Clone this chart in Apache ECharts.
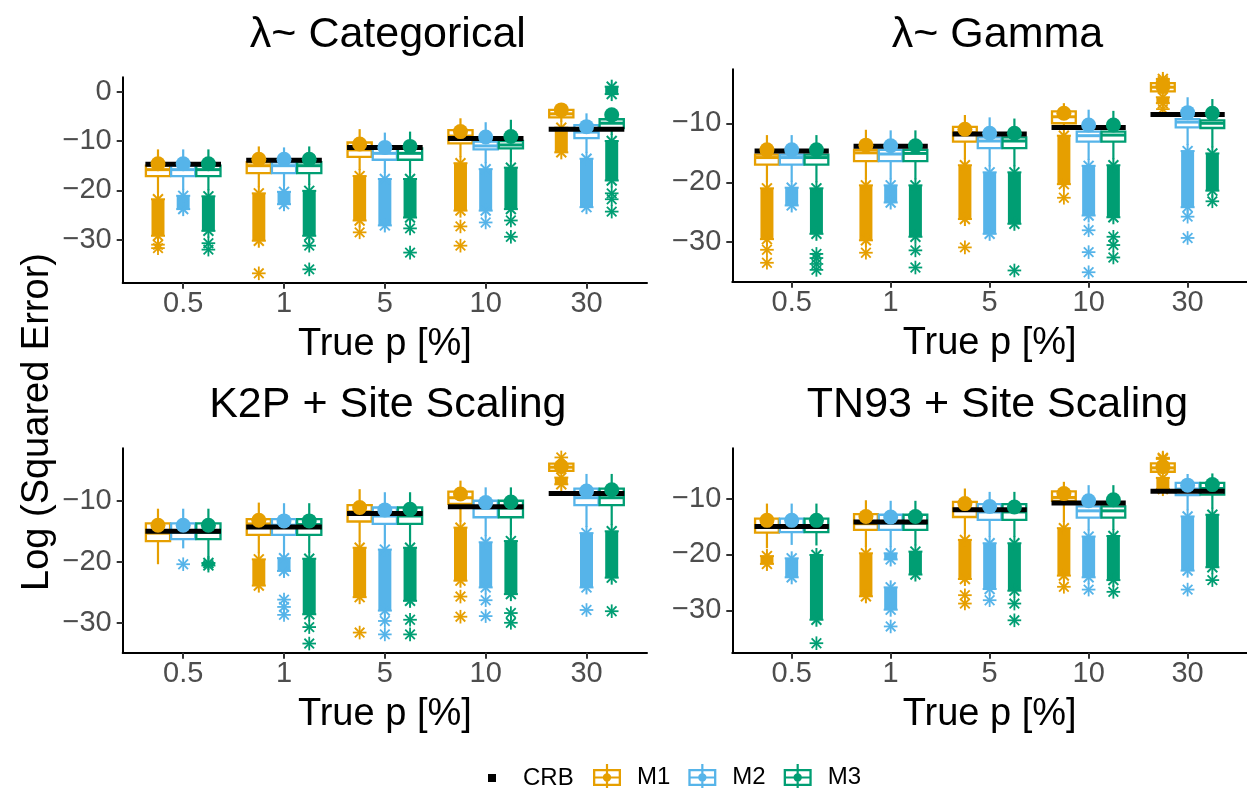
<!DOCTYPE html>
<html><head><meta charset="utf-8">
<script src="https://cdn.jsdelivr.net/npm/echarts@6/dist/echarts.min.js"></script>
<style>html,body{margin:0;padding:0;background:#fff}#chart{width:1247px;height:788px}</style>
</head><body><div id="chart"></div>
<script>
// ---------- data ----------
const categories = ['0.5', '1', '5', '10', '30'];
const panelTitles = ['λ~ Categorical', 'λ~ Gamma', 'K2P + Site Scaling', 'TN93 + Site Scaling'];
const modelNames = ['M1', 'M2', 'M3'];
const xAxisTitle = 'True p [%]';
const yAxisTitle = 'Log (Squared Error)';
const yTicksP1 = [0, -10, -20, -30];
const yTicksP2 = [-10, -20, -30];
const yTicksP3 = [-10, -20, -30];
const yTicksP4 = [-10, -20, -30];

// box stats per category: [lowerWhisker, Q1, median, Q3, upperWhisker]
// Panel 1: lambda ~ Categorical
const p1Crb = [-14.7, -13.9, -11.3, -9.5, -7.6];
const p1M1Box = [[-20.6,-17.1,-15.8,-15.0,-11.7],[-19.4,-16.5,-15.0,-14.3,-11.1],[-15.9,-13.2,-11.8,-10.3,-7.6],[-13.3,-10.5,-9.0,-7.8,-5.4],[-6.1,-5.2,-4.5,-3.7,-2.6]];
const p1M1Mean = [-14.6, -13.7, -10.6, -8.1, -3.7];
const p1M1Bands = [[0,-21.8,-29.2],[1,-20.6,-30.2],[2,-17.1,-26.1],[3,-14.5,-24.1],[4,-7.3,-12.3]];
const p1M1Out = [[0,-31.0],[0,-31.7],[1,-36.8],[2,-28.5],[3,-27.3],[3,-31.2]];
const p1M2Box = [[-19.9,-17.1,-15.8,-15.0,-11.7],[-19.1,-16.5,-15.0,-14.3,-11.3],[-16.5,-13.8,-12.5,-11.5,-8.3],[-14.5,-11.7,-11.0,-10.1,-6.2],[-12.4,-9.4,-8.2,-6.8,-4.4]];
const p1M2Mean = [-14.6, -13.7, -11.3, -9.2, -7.1];
const p1M2Bands = [[0,-21.1,-23.8],[1,-20.3,-22.8],[2,-17.7,-27.1],[3,-15.7,-24.1],[4,-13.6,-23.4]];
const p1M2Out = [[3,-26.5]];
const p1M3Box = [[-20.0,-17.1,-15.8,-15.0,-11.7],[-18.9,-16.5,-15.0,-14.3,-11.1],[-16.5,-13.8,-12.5,-11.5,-8.1],[-14.2,-11.5,-10.8,-10.0,-5.7],[-8.8,-7.4,-6.4,-5.6,-3.6]];
const p1M3Mean = [-14.6, -13.7, -11.1, -9.1, -4.7];
const p1M3Bands = [[0,-21.2,-28.2],[1,-20.1,-29.2],[2,-17.7,-25.5],[3,-15.4,-23.8],[4,-10.0,-18.0],[4,1.0,-0.5]];
const p1M3Out = [[0,-30.7],[0,-32.0],[1,-31.2],[1,-36.0],[2,-27.7],[2,-32.6],[3,-26.1],[3,-29.4],[4,-20.6],[4,-21.8],[4,-24.3]];

// Panel 2: lambda ~ Gamma
const p2Crb = [-14.7, -13.9, -11.8, -10.7, -8.5];
const p2M1Box = [[-20.0,-17.0,-15.8,-15.3,-12.0],[-19.5,-16.4,-15.0,-14.5,-11.1],[-16.1,-13.1,-11.6,-10.6,-8.6],[-11.1,-10.0,-8.9,-8.0,-6.6],[-5.0,-4.6,-3.9,-3.2,-3.0]];
const p2M1Mean = [-14.5, -13.7, -11.0, -8.3, -3.8];
const p2M1Bands = [[0,-21.0,-29.6],[1,-20.5,-29.8],[2,-17.1,-26.2],[3,-12.1,-20.3],[4,-5.6,-6.6],[4,-2.5,-2.9]];
const p2M1Out = [[0,-31.4],[0,-33.6],[1,-31.9],[2,-31.0],[3,-22.6],[4,-7.6]];
const p2M2Box = [[-19.9,-17.0,-15.8,-15.3,-12.0],[-19.5,-16.4,-15.2,-14.5,-11.2],[-17.3,-14.2,-13.0,-12.4,-9.0],[-16.2,-13.1,-12.1,-11.4,-7.7],[-13.7,-10.7,-9.8,-9.3,-5.6]];
const p2M2Mean = [-14.5, -13.8, -11.7, -10.3, -8.2];
const p2M2Bands = [[0,-20.9,-23.9],[1,-20.5,-23.4],[2,-18.3,-28.7],[3,-17.2,-25.6],[4,-14.7,-24.2]];
const p2M2Out = [[3,-28.1],[3,-31.8],[3,-35.2],[4,-25.8],[4,-29.4]];
const p2M3Box = [[-20.0,-17.0,-15.8,-15.3,-12.0],[-19.5,-16.4,-15.1,-14.5,-11.2],[-17.3,-14.2,-13.0,-12.4,-9.2],[-16.1,-13.1,-12.0,-11.4,-7.9],[-14.1,-10.8,-10.0,-9.5,-5.9]];
const p2M3Mean = [-14.5, -13.8, -11.7, -10.3, -8.3];
const p2M3Bands = [[0,-21.0,-28.7],[1,-20.5,-29.2],[2,-18.3,-27.0],[3,-17.1,-25.9],[4,-15.1,-21.4]];
const p2M3Out = [[0,-32.1],[0,-32.8],[0,-33.8],[0,-34.8],[1,-31.5],[1,-34.4],[2,-34.9],[3,-29.2],[3,-30.6],[3,-32.7],[4,-23.2]];

// Panel 3: K2P + Site Scaling
const p3Crb = [-15.0, -14.3, -12.1, -11.0, -8.8];
const p3M1Box = [[-20.4,-16.6,-15.3,-13.7,-11.3],[-18.6,-15.6,-13.8,-13.0,-10.3],[-16.7,-13.4,-11.8,-10.7,-8.1],[-13.4,-10.5,-9.5,-8.5,-6.7],[-5.6,-5.1,-4.5,-3.9,-3.3]];
const p3M1Mean = [-14.0, -13.2, -11.1, -8.9, -4.4];
const p3M1Bands = [[1,-19.6,-23.9],[2,-17.7,-25.8],[3,-14.4,-23.1],[4,-6.2,-7.3]];
const p3M1Out = [[2,-31.6],[3,-25.7],[3,-29.0],[4,-2.9]];
const p3M2Box = [[-17.8,-16.3,-15.2,-13.7,-11.3],[-18.4,-15.6,-14.0,-13.0,-10.4],[-17.0,-13.8,-12.5,-11.1,-8.6],[-15.8,-12.7,-11.2,-10.0,-7.8],[-14.3,-10.7,-9.5,-8.0,-5.6]];
const p3M2Mean = [-14.0, -13.3, -11.5, -10.3, -8.4];
const p3M2Bands = [[1,-19.4,-21.5],[2,-18.0,-28.0],[3,-16.8,-24.2],[4,-15.3,-24.2]];
const p3M2Out = [[0,-20.4],[1,-26.2],[1,-27.4],[1,-28.7],[2,-29.7],[2,-31.9],[3,-26.3],[3,-28.9],[4,-27.9]];
const p3M3Box = [[-19.5,-16.3,-15.2,-13.7,-11.3],[-18.5,-15.6,-13.9,-13.0,-10.4],[-16.7,-13.8,-12.5,-11.1,-8.6],[-15.6,-12.7,-11.2,-10.0,-7.8],[-14.0,-10.7,-9.5,-8.0,-5.6]];
const p3M3Mean = [-14.0, -13.3, -11.4, -10.2, -8.2];
const p3M3Bands = [[0,-20.2,-20.6],[1,-19.5,-28.6],[2,-17.7,-26.4],[3,-16.6,-25.3],[4,-15.0,-22.6]];
const p3M3Out = [[1,-30.7],[1,-33.4],[2,-29.5],[2,-31.9],[3,-28.4],[3,-30.0],[4,-28.1]];

// Panel 4: TN93 + Site Scaling
const p4Crb = [-15.0, -14.2, -12.0, -10.8, -8.7];
const p4M1Box = [[-18.9,-16.1,-14.9,-13.6,-10.9],[-18.7,-15.6,-14.5,-12.8,-10.3],[-16.3,-13.3,-11.9,-10.6,-8.2],[-14.2,-10.4,-9.8,-8.7,-7.0],[-5.6,-5.2,-4.5,-3.7,-3.2]];
const p4M1Mean = [-13.9, -13.2, -10.9, -9.1, -4.3];
const p4M1Bands = [[0,-20.3,-21.7],[1,-19.8,-27.5],[2,-17.4,-24.4],[3,-15.3,-23.8],[4,-6.3,-8.3],[4,-2.7,-2.9]];
const p4M1Out = [[2,-27.3],[2,-28.8],[3,-25.8]];
const p4M2Box = [[-18.3,-16.0,-15.0,-13.6,-10.9],[-18.7,-15.6,-14.4,-12.9,-10.4],[-16.9,-13.8,-12.4,-11.0,-8.8],[-15.7,-13.4,-12.2,-11.4,-7.6],[-12.1,-9.4,-8.3,-7.2,-5.6]];
const p4M2Mean = [-13.9, -13.3, -11.4, -10.4, -7.6];
const p4M2Bands = [[0,-20.7,-24.1],[1,-19.8,-20.9],[1,-25.9,-29.9],[2,-18.0,-26.2],[3,-16.8,-24.1],[4,-13.2,-22.9]];
const p4M2Out = [[1,-32.9],[2,-28.2],[3,-26.3],[4,-26.3]];
const p4M3Box = [[-18.4,-16.0,-15.0,-13.6,-10.9],[-18.4,-15.6,-14.4,-12.9,-10.4],[-16.9,-13.8,-12.4,-11.0,-8.8],[-15.6,-13.4,-12.2,-11.4,-7.6],[-11.8,-9.3,-8.2,-7.2,-5.5]];
const p4M3Mean = [-13.9, -13.2, -11.5, -10.2, -7.5];
const p4M3Bands = [[0,-20.1,-31.7],[1,-19.5,-23.6],[2,-18.0,-26.5],[3,-16.7,-24.6],[4,-12.9,-22.3]];
const p4M3Out = [[0,-35.9],[2,-28.8],[2,-31.8],[3,-26.7],[4,-24.6]];

// ---------- layout / style ----------
const FONT = '"Liberation Sans", Arial, Helvetica, sans-serif';
const COLORS = ['#E69F00', '#56B4E9', '#009E73'];
const OFFSETS = [-0.25, 0, 0.25];
const layout = [
  {left: 122.7, top: 77.3, width: 524.3, height: 205.4, ymin: -38.7, ymax: 2.9},
  {left: 732.3, top: 69.3, width: 524.3, height: 212.4, ymin: -36.8, ymax: -0.87},
  {left: 122.7, top: 448.3, width: 524.3, height: 204.4, ymin: -34.9, ymax: -1.4},
  {left: 732.3, top: 448.3, width: 524.3, height: 204.4, ymin: -37.6, ymax: -1.0}
];
const panels = [
  {crb: p1Crb, box: [p1M1Box, p1M2Box, p1M3Box], mean: [p1M1Mean, p1M2Mean, p1M3Mean], bands: [p1M1Bands, p1M2Bands, p1M3Bands], out: [p1M1Out, p1M2Out, p1M3Out], yTicks: yTicksP1},
  {crb: p2Crb, box: [p2M1Box, p2M2Box, p2M3Box], mean: [p2M1Mean, p2M2Mean, p2M3Mean], bands: [p2M1Bands, p2M2Bands, p2M3Bands], out: [p2M1Out, p2M2Out, p2M3Out], yTicks: yTicksP2},
  {crb: p3Crb, box: [p3M1Box, p3M2Box, p3M3Box], mean: [p3M1Mean, p3M2Mean, p3M3Mean], bands: [p3M1Bands, p3M2Bands, p3M3Bands], out: [p3M1Out, p3M2Out, p3M3Out], yTicks: yTicksP3},
  {crb: p4Crb, box: [p4M1Box, p4M2Box, p4M3Box], mean: [p4M1Mean, p4M2Mean, p4M3Mean], bands: [p4M1Bands, p4M2Bands, p4M3Bands], out: [p4M1Out, p4M2Out, p4M3Out], yTicks: yTicksP4}
];

function fmtY(v) { return v < 0 ? '\u2212' + Math.abs(v) : String(v); }
function astLines(cx, cy, r, color, lw) {
  const d = r * 0.7071;
  return [[0,-r,0,r],[-r,0,r,0],[-d,-d,d,d],[-d,d,d,-d]].map(s => ({
    type: 'line', shape: {x1: cx + s[0], y1: cy + s[1], x2: cx + s[2], y2: cy + s[3]},
    style: {stroke: color, lineWidth: lw}
  }));
}

const grids = [], xAxes = [], yAxes = [], series = [];
layout.forEach((L, pi) => {
  grids.push({left: L.left, top: L.top, width: L.width, height: L.height, containLabel: false});
  xAxes.push({
    type: 'value', gridIndex: pi, min: -0.6, max: 4.6,
    axisLine: {show: true, onZero: false, lineStyle: {color: '#000', width: 2}},
    axisTick: {show: true, customValues: [0, 1, 2, 3, 4], length: 6, lineStyle: {color: '#333', width: 2}},
    axisLabel: {customValues: [0, 1, 2, 3, 4], formatter: v => categories[Math.round(v)], fontSize: 29, color: '#4D4D4D', margin: 7, fontFamily: FONT},
    splitLine: {show: false},
    name: xAxisTitle, nameLocation: 'middle', nameGap: 43,
    nameTextStyle: {fontSize: 38, color: '#000', fontFamily: FONT}
  });
  yAxes.push({
    type: 'value', gridIndex: pi, min: L.ymin, max: L.ymax,
    axisLine: {show: true, onZero: false, lineStyle: {color: '#000', width: 2}},
    axisTick: {show: true, customValues: panels[pi].yTicks, length: 6, lineStyle: {color: '#333', width: 2}},
    axisLabel: {customValues: panels[pi].yTicks, formatter: fmtY, fontSize: 29, color: '#4D4D4D', margin: 11, fontFamily: FONT},
    splitLine: {show: false}
  });
});

panels.forEach((P, pi) => {
  modelNames.forEach((m, mi) => {
    const color = COLORS[mi], off = OFFSETS[mi];
    // dense outlier columns
    series.push({
      type: 'custom', name: m, coordinateSystem: 'cartesian2d', xAxisIndex: pi, yAxisIndex: pi,
      z: 2, silent: true, itemStyle: {color: color}, encode: {x: 0, y: [1, 2]},
      data: P.bands[mi],
      renderItem: (params, api) => {
        const x = api.value(0) + off;
        const t = api.coord([x, api.value(1)]), b = api.coord([x, api.value(2)]);
        return {type: 'group', children: [
          {type: 'rect', shape: {x: t[0] - 6.5, y: t[1], width: 13, height: Math.max(0, b[1] - t[1])}, style: {fill: color}}
        ].concat(astLines(t[0], t[1], 7, color, 2), astLines(b[0], b[1], 7, color, 2))};
      }
    });
    // single outliers
    series.push({
      type: 'custom', name: m, coordinateSystem: 'cartesian2d', xAxisIndex: pi, yAxisIndex: pi,
      z: 2, silent: true, itemStyle: {color: color}, encode: {x: 0, y: 1},
      data: P.out[mi],
      renderItem: (params, api) => {
        const p = api.coord([api.value(0) + off, api.value(1)]);
        return {type: 'group', children: astLines(p[0], p[1], 6.8, color, 1.8)};
      }
    });
    // boxes + whiskers
    series.push({
      type: 'custom', name: m, coordinateSystem: 'cartesian2d', xAxisIndex: pi, yAxisIndex: pi,
      z: 3, silent: true, itemStyle: {color: color}, encode: {x: 0, y: [1, 5]},
      data: P.box[mi].map((b, i) => [i].concat(b)),
      renderItem: (params, api) => {
        const x = api.value(0) + off;
        const lo = api.coord([x, api.value(1)]), q1 = api.coord([x, api.value(2)]);
        const med = api.coord([x, api.value(3)]), q3 = api.coord([x, api.value(4)]);
        const hi = api.coord([x, api.value(5)]);
        const hw = api.size([0.12, 0])[0];
        return {type: 'group', children: [
          {type: 'line', shape: {x1: hi[0], y1: hi[1], x2: lo[0], y2: lo[1]}, style: {stroke: color, lineWidth: 2.2}},
          {type: 'rect', shape: {x: q3[0] - hw, y: q3[1], width: 2 * hw, height: q1[1] - q3[1]}, style: {fill: '#fff', stroke: color, lineWidth: 2.3}},
          {type: 'line', shape: {x1: med[0] - hw, y1: med[1], x2: med[0] + hw, y2: med[1]}, style: {stroke: color, lineWidth: 3}}
        ]};
      }
    });
  });
  // CRB lines
  series.push({
    type: 'custom', name: 'CRB', coordinateSystem: 'cartesian2d', xAxisIndex: pi, yAxisIndex: pi,
    z: 4, silent: true, itemStyle: {color: '#000'}, encode: {x: 0, y: 1},
    data: P.crb.map((v, i) => [i, v]),
    renderItem: (params, api) => {
      const a = api.coord([api.value(0) - 0.375, api.value(1)]);
      const b = api.coord([api.value(0) + 0.375, api.value(1)]);
      return {type: 'rect', shape: {x: a[0], y: a[1] - 2.5, width: b[0] - a[0], height: 5}, style: {fill: '#000'}};
    }
  });
  // means
  modelNames.forEach((m, mi) => {
    const color = COLORS[mi], off = OFFSETS[mi];
    series.push({
      type: 'custom', name: m, coordinateSystem: 'cartesian2d', xAxisIndex: pi, yAxisIndex: pi,
      z: 5, silent: true, itemStyle: {color: color}, encode: {x: 0, y: 1},
      data: P.mean[mi].map((v, i) => [i, v]),
      renderItem: (params, api) => {
        const p = api.coord([api.value(0) + off, api.value(1)]);
        return {type: 'circle', shape: {cx: p[0], cy: p[1], r: 7.5}, style: {fill: color}};
      }
    });
  });
});

const KEY_ICON = 'path://M0,5H28V22H0Z M2.3,7.3V19.7H25.7V7.3Z M2,12.4H26V14.6H2Z M12.9,0H15.1V27H12.9Z M14,9.3A4.2,4.2,0,1,1,14,17.7A4.2,4.2,0,1,1,14,9.3Z';

const titleXs = layout.map(L => L.left + L.width / 2);
const titleYs = [35, 35, 405, 405];
const graphics = panelTitles.map((t, i) => ({
  type: 'text', x: titleXs[i] + 3, y: titleYs[i], silent: true,
  style: {text: t, fontSize: 43, fontFamily: FONT, fill: '#000', align: 'center', verticalAlign: 'middle', textAlign: 'center', textVerticalAlign: 'middle'}
}));
graphics.push({
  type: 'text', x: 38, y: 422, rotation: Math.PI / 2, silent: true,
  style: {text: yAxisTitle, fontSize: 38, fontFamily: FONT, fill: '#000', align: 'center', verticalAlign: 'middle', textAlign: 'center', textVerticalAlign: 'middle'}
});

const chart = echarts.init(document.getElementById('chart'), null, {renderer: 'canvas'});
chart.setOption({
  animation: false,
  backgroundColor: '#fff',
  textStyle: {fontFamily: FONT},
  grid: grids, xAxis: xAxes, yAxis: yAxes,
  legend: [
    {data: [{name: 'CRB', icon: 'rect'}], left: 483, top: 761, itemWidth: 8, itemHeight: 8, selectedMode: false,
     textStyle: {fontSize: 24, color: '#000', fontFamily: FONT, padding: [0, 0, 0, 22]}},
    {data: modelNames.map(n => ({name: n, icon: KEY_ICON})), left: 588, top: 759, itemWidth: 28, itemHeight: 27, itemGap: 18, selectedMode: false,
     textStyle: {fontSize: 24, color: '#000', fontFamily: FONT, padding: [0, 0, 0, 11]}}
  ],
  graphic: graphics,
  series: series
});
</script></body></html>
